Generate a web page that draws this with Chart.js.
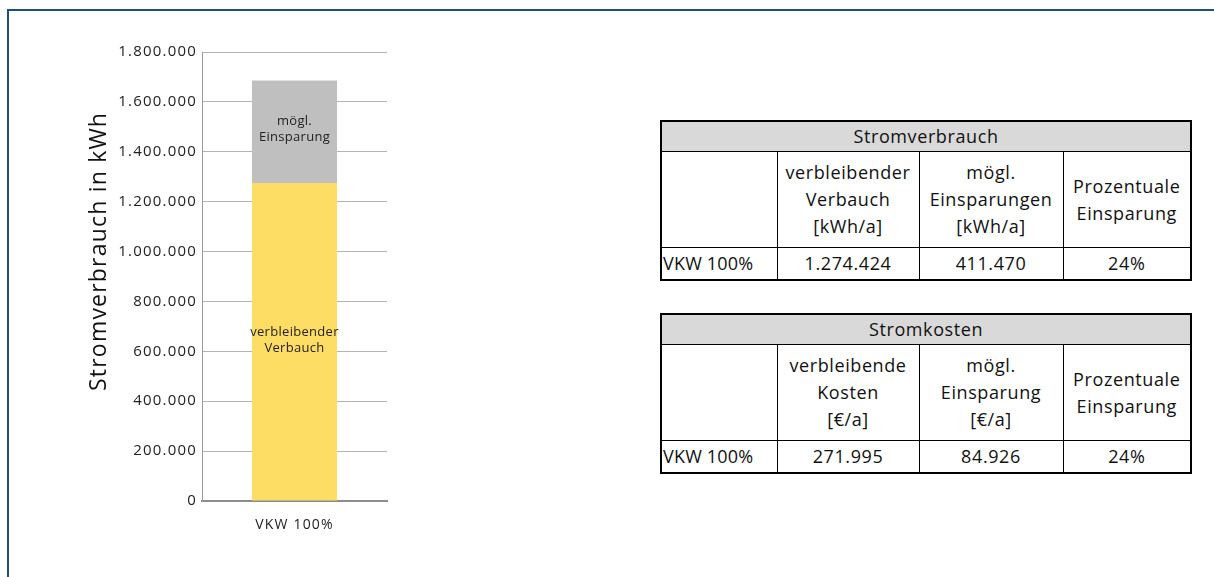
<!DOCTYPE html>
<html>
<head>
<meta charset="utf-8">
<script src="https://cdn.jsdelivr.net/npm/chart.js@4.4.0/dist/chart.umd.min.js"></script>
<style>
  html, body { margin: 0; padding: 0; background: #fff; }
  body { width: 1214px; height: 577px; position: relative; overflow: hidden; font-family: "Open Sans", sans-serif; }
  #frame { position: absolute; left: 7px; top: 9px; width: 1300px; height: 700px; border-left: 2px solid #1f4e79; border-top: 2px solid #1f4e79; }
  #chartBox { position: absolute; left: 0; top: 0; width: 420px; height: 577px; }
  table { position: absolute; left: 660px; width: 530px; border-collapse: collapse; border: 2px solid #000; font-size: 18px; letter-spacing: 0.6px; color: #111; table-layout: fixed; }
  td { border: 1px solid #000; text-align: center; padding: 0 1px; line-height: 27px; white-space: nowrap; }
  td.head { background: #d9d9d9; height: 29px; }
  tr.data td { height: 31px; border-bottom: 2px solid #000; }
  td.row { text-align: left; padding-left: 1px; letter-spacing: 0.2px; }
  #t1 { top: 120px; }
  #t2 { top: 313px; }
</style>
</head>
<body>
<div id="frame"></div>
<div id="chartBox"><canvas id="graph" width="420" height="577"></canvas></div>

<table id="t1"></table>
<table id="t2"></table>

<script>
const categories = ["VKW 100%"];
const remainingUse = [1274424];
const possibleSavings = [411470];
const seriesLabels = [["verbleibender", "Verbauch"], ["mögl.", "Einsparung"]];
const yTicks = [0, 200000, 400000, 600000, 800000, 1000000, 1200000, 1400000, 1600000, 1800000];

const useHeaders = [["verbleibender", "Verbauch", "[kWh/a]"], ["mögl.", "Einsparungen", "[kWh/a]"], ["Prozentuale", "Einsparung"]];
const useRow = ["VKW 100%", "1.274.424", "411.470", "24%"];
const costHeaders = [["verbleibende", "Kosten", "[€/a]"], ["mögl.", "Einsparung", "[€/a]"], ["Prozentuale", "Einsparung"]];
const costRow = ["VKW 100%", "271.995", "84.926", "24%"];

function fmt(n) {
  return String(n).replace(/\B(?=(\d{3})+(?!\d))/g, ".");
}

function buildTable(el, title, headers, row) {
  let html = '<colgroup><col style="width:116px"><col style="width:142px"><col style="width:144px"><col style="width:128px"></colgroup>';
  html += '<tr><td class="head" colspan="4">' + title + '</td></tr>';
  html += '<tr><td style="height:95px"></td>';
  headers.forEach(h => { html += '<td>' + h.join("<br>") + '</td>'; });
  html += '</tr><tr class="data">';
  row.forEach((v, i) => { html += '<td' + (i === 0 ? ' class="row"' : '') + '>' + v + '</td>'; });
  html += '</tr>';
  el.innerHTML = html;
}
buildTable(document.getElementById("t1"), "Stromverbrauch", useHeaders, useRow);
buildTable(document.getElementById("t2"), "Stromkosten", costHeaders, costRow);

// wider tracking for axis text, like the original
const spacing = {
  id: "spacing",
  beforeDraw(chart) { chart.ctx.letterSpacing = "1.2px"; }
};

// labels drawn in the middle of each bar segment
const segmentLabels = {
  id: "segmentLabels",
  afterDatasetsDraw(chart) {
    const ctx = chart.ctx;
    ctx.save();
    ctx.letterSpacing = "0.3px";
    ctx.font = "13px 'Open Sans'";
    ctx.fillStyle = "#222";
    ctx.textAlign = "center";
    ctx.textBaseline = "middle";
    chart.data.datasets.forEach((ds, i) => {
      chart.getDatasetMeta(i).data.forEach(bar => {
        const p = bar.getProps(["x", "y", "base"], true);
        const mid = (p.y + p.base) / 2 - 2;
        const lines = seriesLabels[i];
        lines.forEach((t, k) => {
          ctx.fillText(t, p.x, mid + (k - (lines.length - 1) / 2) * 16);
        });
      });
    });
    ctx.restore();
  }
};

const ctx = document.getElementById("graph").getContext("2d");
new Chart(ctx, {
  type: "bar",
  data: {
    labels: categories,
    datasets: [
      { label: seriesLabels[0].join(" "), data: remainingUse, backgroundColor: "#fedd65" },
      { label: seriesLabels[1].join(" "), data: possibleSavings, backgroundColor: "#bfbfbf" }
    ]
  },
  options: {
    responsive: false,
    animation: false,
    events: [],
    layout: { padding: { left: 84, top: 52, right: 33, bottom: 36 } },
    datasets: { bar: { categoryPercentage: 1, barPercentage: 0.46 } },
    plugins: { legend: { display: false }, tooltip: { enabled: false } },
    scales: {
      x: {
        stacked: true,
        grid: { display: false },
        border: { color: "#8c8c8c", width: 2 },
        ticks: { color: "#222", font: { family: "Open Sans", size: 14 }, padding: 8 },
        afterFit(s) { s.height = 40; }
      },
      y: {
        stacked: true,
        min: 0,
        max: 1800000,
        afterBuildTicks(s) { s.ticks = yTicks.map(v => ({ value: v })); },
        grid: { color: "#b4b4b4", drawTicks: false },
        border: { color: "#9a9a9a", width: 1 },
        ticks: { color: "#222", font: { family: "Open Sans", size: 15 }, padding: 5, callback: v => fmt(v) },
        // leading spaces lift the centred title a little, as in the original
        title: { display: true, text: "       Stromverbrauch in kWh", color: "#111", font: { family: "Open Sans", size: 23 }, padding: 2 },
        afterFit(s) { s.width = 118; }
      }
    }
  },
  plugins: [spacing, segmentLabels]
});
</script>
</body>
</html>
